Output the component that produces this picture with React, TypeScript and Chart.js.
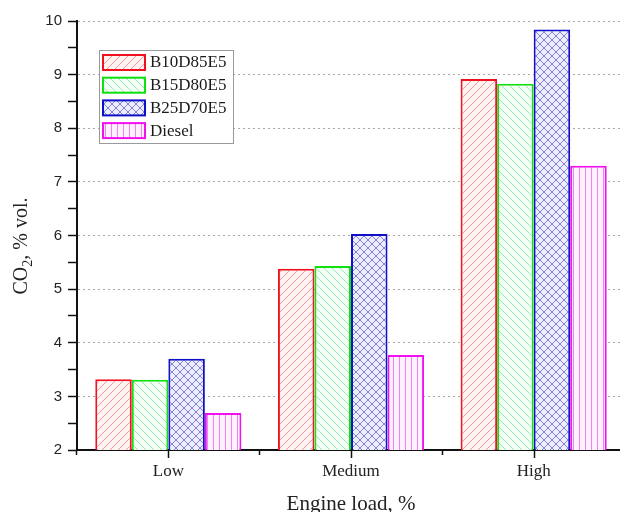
import React, { useEffect, useRef } from "react";
import { Chart, registerables } from "chart.js";

Chart.register(...registerables);

const categories = ["Low", "Medium", "High"];
const seriesNames = ["B10D85E5", "B15D80E5", "B25D70E5", "Diesel"];
const b10d85e5 = [3.32, 5.38, 8.92];
const b15d80e5 = [3.31, 5.43, 8.83];
const b25d70e5 = [3.70, 6.03, 9.84];
const diesel = [2.69, 3.77, 7.30];
const yMin = 2;
const yMax = 10;

const SERIF = "'Liberation Serif', 'Times New Roman', serif";
const SANS = "'Liberation Sans', Arial, sans-serif";

function makePattern(kind: string, line: string, bg: string): CanvasPattern | string {
  const s = kind === "vert" ? 6 : 8;
  const c = document.createElement("canvas");
  c.width = s;
  c.height = s;
  const g = c.getContext("2d");
  if (!g) return bg;
  g.fillStyle = bg;
  g.fillRect(0, 0, s, s);
  g.strokeStyle = line;
  g.lineWidth = 1;
  const fwd = () => {
    g.beginPath();
    g.moveTo(-1, s + 1);
    g.lineTo(s + 1, -1);
    g.moveTo(-1, 1);
    g.lineTo(1, -1);
    g.moveTo(s - 1, s + 1);
    g.lineTo(s + 1, s - 1);
    g.stroke();
  };
  const back = () => {
    g.beginPath();
    g.moveTo(-1, -1);
    g.lineTo(s + 1, s + 1);
    g.moveTo(s - 1, -1);
    g.lineTo(s + 1, 1);
    g.moveTo(-1, s - 1);
    g.lineTo(1, s + 1);
    g.stroke();
  };
  if (kind === "fwd") fwd();
  else if (kind === "back") back();
  else if (kind === "cross") {
    fwd();
    back();
  } else {
    g.beginPath();
    g.moveTo(s / 2 + 0.5, 0);
    g.lineTo(s / 2 + 0.5, s);
    g.stroke();
  }
  return g.createPattern(c, "repeat") || bg;
}

export default function App() {
  const ref = useRef<HTMLCanvasElement>(null);
  useEffect(() => {
    if (!ref.current) return;
    const borders = ["#f01020", "#10e010", "#1010c8", "#f010f0"];
    const fills = [
      makePattern("fwd", "rgba(240,120,120,0.75)", "#fdf3f3"),
      makePattern("back", "rgba(120,230,150,0.75)", "#f4fdf6"),
      makePattern("cross", "rgba(110,110,220,0.85)", "#eeeefb"),
      makePattern("vert", "rgba(240,110,240,0.85)", "#fdf1fd"),
    ];
    const values = [b10d85e5, b15d80e5, b25d70e5, diesel];

    const decorPlugin = {
      id: "decor",
      afterDraw(chart: any) {
        const ctx = chart.ctx;
        ctx.save();
        // major tick marks at category centers
        const xs = chart.scales.x;
        const axisY = chart.chartArea.bottom;
        ctx.strokeStyle = "#111";
        ctx.lineWidth = 1.5;
        categories.forEach((_, i) => {
          const px = Math.round(xs.getPixelForValue(i)) + 0.5;
          ctx.beginPath();
          ctx.moveTo(px, axisY - 1);
          ctx.lineTo(px, axisY + 8);
          ctx.stroke();
        });
        // y-axis title with subscript
        ctx.save();
        ctx.translate(22, 246);
        ctx.rotate(-Math.PI / 2);
        ctx.fillStyle = "#222";
        ctx.textBaseline = "middle";
        ctx.textAlign = "left";
        const big = `20px ${SERIF}`;
        const small = `14px ${SERIF}`;
        const p1 = "CO";
        const p3 = ", % vol.";
        ctx.font = big;
        const w1 = ctx.measureText(p1).width;
        const w3 = ctx.measureText(p3).width;
        ctx.font = small;
        const w2 = ctx.measureText("2").width;
        const total = w1 + w2 + w3;
        let x = -total / 2;
        ctx.font = big;
        ctx.fillText(p1, x, 0);
        x += w1;
        ctx.font = small;
        ctx.fillText("2", x, 6);
        x += w2;
        ctx.font = big;
        ctx.fillText(p3, x, 0);
        ctx.restore();

        // legend
        const x0 = 99, y0 = 50, w = 134, h = 93;
        ctx.fillStyle = "#fff";
        ctx.fillRect(x0, y0, w, h);
        ctx.strokeStyle = "#9a9a9a";
        ctx.lineWidth = 1;
        ctx.strokeRect(x0 + 0.5, y0 + 0.5, w, h);
        seriesNames.forEach((name, i) => {
          const cy = y0 + 12 + i * 22.7;
          ctx.fillStyle = fills[i];
          ctx.fillRect(103, cy - 7, 42, 15);
          ctx.strokeStyle = borders[i];
          ctx.lineWidth = 2;
          ctx.strokeRect(103, cy - 7, 42, 15);
          ctx.fillStyle = "#1a1a1a";
          ctx.font = `17px ${SERIF}`;
          ctx.textBaseline = "middle";
          ctx.textAlign = "left";
          ctx.fillText(name, 150, cy + 1);
        });
        ctx.restore();
      },
    };

    const chart = new Chart(ref.current, {
      type: "bar",
      data: {
        labels: categories,
        datasets: values.map((v, i) => ({
          label: seriesNames[i],
          data: v,
          backgroundColor: fills[i],
          borderColor: borders[i],
          borderWidth: 2,
          borderSkipped: "start",
          barPercentage: 1,
          categoryPercentage: 0.8,
        })),
      },
      options: {
        animation: false,
        responsive: false,
        maintainAspectRatio: false,
        layout: { padding: { left: 0, right: 0, top: 21, bottom: 0 } },
        plugins: {
          legend: { display: false },
          tooltip: { enabled: false },
        },
        scales: {
          x: {
            offset: true,
            grid: {
              display: true,
              drawOnChartArea: false,
              tickLength: 5,
              tickColor: "#111",
              tickWidth: 1.5,
            },
            border: { display: true, color: "#111", width: 2 },
            ticks: {
              color: "#222",
              font: { family: SERIF, size: 17 },
              padding: 6,
            },
            title: {
              display: true,
              text: "Engine load, %",
              color: "#222",
              font: { family: SERIF, size: 21, lineHeight: 0.76 },
              padding: { top: 0, bottom: 0 },
            },
            afterFit: (s: any) => {
              s.height = 62;
            },
          },
          y: {
            min: yMin,
            max: yMax,
            ticks: {
              stepSize: 0.5,
              autoSkip: false,
              color: "#222",
              font: { family: SANS, size: 15 },
              padding: 6,
              callback: (v: any) => (Number.isInteger(v) ? String(v) : ""),
            },
            grid: {
              color: (c: any) =>
                c.tick && Number.isInteger(c.tick.value) && c.tick.value !== yMin
                  ? "#a8a8a8"
                  : "rgba(0,0,0,0)",
              lineWidth: 1,
              tickColor: "#111",
              tickLength: 9,
              tickWidth: 1.5,
              tickBorderDash: [],
            },
            border: { display: true, color: "#111", width: 2, dash: [2, 3] },
            afterFit: (s: any) => {
              s.width = 77;
            },
          },
        },
      },
      plugins: [decorPlugin],
    });
    return () => chart.destroy();
  }, []);

  return (
    <div
      style={{
        position: "fixed",
        left: 0,
        top: 0,
        width: 620,
        height: 512,
        overflow: "hidden",
        background: "#fff",
      }}
    >
      <canvas ref={ref} width={625} height={512} style={{ display: "block" }} />
    </div>
  );
}
